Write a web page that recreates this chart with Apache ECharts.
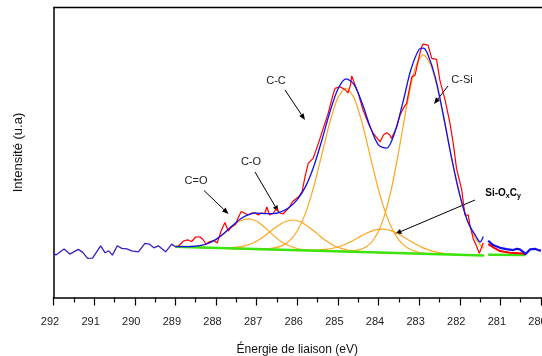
<!DOCTYPE html>
<html><head><meta charset="utf-8">
<script src="https://cdn.jsdelivr.net/npm/echarts@6/dist/echarts.min.js"></script>
<style>html,body{margin:0;padding:0;background:#fff}#c{width:542px;height:356px}</style>
</head><body><div id="c"></div>
<script>
// ---- Data (binding energy in eV, intensity in arbitrary units) ----
const noiseE = [292.0,291.94,291.74,291.60,291.39,291.28,291.16,291.04,290.84,290.73,290.64,290.55,290.43,290.32,290.19,290.08,289.91,289.75,289.64,289.53,289.42,289.24,289.09,289.0];
const noiseI = [44.7,42.4,48.4,43.4,48.1,45.1,39.1,39.4,51.7,44.7,46.7,42.4,51.7,49.1,48.7,46.7,45.7,54.1,53.4,49.7,51.7,45.7,53.4,50.8];

const rawE = [289.00,288.92,288.80,288.70,288.60,288.50,288.40,288.32,288.25,288.15,288.05,287.97,287.88,287.78,287.70,287.62,287.52,287.45,287.38,287.30,287.21,287.12,287.04,286.96,286.88,286.80,286.75,286.68,286.60,286.51,286.43,286.35,286.27,286.20,286.12,286.04,285.96,285.88,285.81,285.73,285.61,285.48,285.36,285.24,285.11,285.07,284.95,284.83,284.75,284.69,284.66,284.62,284.50,284.38,284.25,284.13,283.96,283.88,283.80,283.72,283.68,283.55,283.47,283.39,283.31,283.18,283.10,283.02,282.94,282.90,282.78,282.69,282.57,282.49,282.36,282.24,282.16,282.08,281.95,281.91,281.87,281.79,281.75,281.67,281.58,281.52,281.42];
const rawI = [50.8,51.5,56.5,57.6,56.0,60.5,60.7,58.0,53.5,56.0,57.0,54.5,66.0,75.0,66.5,70.5,73.0,80.0,86.0,84.5,82.5,84.5,84.7,82.5,84.5,84.0,90.5,82.5,84.0,89.0,84.5,83.5,87.0,90.0,95.5,98.5,101.0,106.0,120.7,134.1,139.1,154.1,169.1,184.1,204.1,209.1,210.7,208.1,204.7,212.4,221.4,217.4,204.1,187.4,174.1,164.1,155.7,162.4,164.7,162.4,159.1,170.7,182.4,189.1,194.1,220.7,222.4,237.4,250.7,253.4,252.4,239.1,238.1,217.4,197.4,174.1,154.1,129.1,107.4,94.1,82.4,82.4,72.4,59.1,50.7,44.1,54.7];

const fitE = [289.0,288.8,288.6,288.4,288.2,288.0,287.8,287.6,287.4,287.2,287.0,286.8,286.6,286.4,286.2,286.0,285.8,285.6,285.4,285.2,285.0,284.8,284.6,284.4,284.2,284.0,283.8,283.6,283.4,283.2,283.0,282.9,282.8,282.6,282.4,282.2,282.0,281.8,281.6,281.5,281.42];
const fitI = [50.8,50.8,51.0,51.8,54.0,58.1,64.3,71.7,78.5,82.9,84.3,83.9,83.8,85.6,90.0,97.8,110.6,130.3,156.5,185.0,208.3,218.7,212.8,193.9,170.3,152.4,149.4,164.9,195.1,228.2,248.2,249.4,244.4,219.9,181.5,139.4,102.6,75.6,61.0,55.5,61.0];

// fitted components (C=O, C-O, C-C, Si-OxCy, C-Si)
const cdoE = [281.4,285.4,285.6,285.8,286.0,286.2,286.4,286.6,286.8,287.0,287.2,287.4,287.6,287.8,288.0,288.2,288.4,288.6,288.8,289.0];
const cdoI = [42.0,46.6,47.1,47.7,49.0,51.7,56.1,62.6,70.1,76.2,78.7,76.7,71.0,64.0,58.0,54.0,51.8,51.0,50.8,50.8];
const coE = [281.4,284.1,284.3,284.5,284.7,284.9,285.1,285.3,285.5,285.7,285.9,286.1,286.3,286.5,286.7,286.9,287.1,287.3,287.5,287.7,287.9,289.0];
const coI = [42.0,45.1,45.5,46.0,47.0,48.9,52.0,56.9,63.4,70.0,75.3,77.5,75.8,70.9,64.8,58.8,54.3,51.7,50.3,49.7,49.7,50.8];
const ccE = [281.4,282.8,283.0,283.2,283.4,283.6,283.8,284.0,284.2,284.4,284.6,284.8,285.0,285.2,285.4,285.6,285.8,286.0,286.2,286.4,286.6,286.8,289.0];
const ccI = [42.0,44.0,45.2,47.7,53.1,63.8,81.6,107.9,140.7,173.9,199.2,209.0,199.7,174.8,142.1,109.8,83.9,66.5,56.4,51.4,49.3,48.7,50.8];
const siocE = [281.4,281.9,282.1,282.3,282.5,282.7,282.9,283.1,283.3,283.5,283.7,283.9,284.1,284.3,284.5,284.7,284.9,285.1,285.3,285.5,285.7,285.9,289.0];
const siocI = [42.0,42.7,43.1,43.7,44.9,46.7,49.6,53.7,58.5,63.2,66.9,68.4,67.3,64.2,59.9,55.5,52.0,49.5,48.1,47.5,47.3,47.3,50.8];
const csiE = [281.4,281.5,281.7,281.9,282.1,282.3,282.5,282.7,282.9,283.1,283.3,283.5,283.7,283.9,284.1,284.3,284.5,284.7,284.9,285.5,289.0];
const csiI = [49.0,52.8,65.8,87.6,119.6,159.6,200.1,231.0,242.7,228.9,192.3,146.7,105.6,76.1,59.0,50.7,47.4,46.3,46.1,46.8,50.8];

const baseE = [289.0,281.4];
const baseI = [50.8,42.0];

// high-energy-side tail segment (right of the gap)
const tailFitE = [281.30,281.18,281.01,280.85,280.68,280.60,280.52,280.44,280.38,280.27,280.15,280.07,280.0];
const tailFitI = [56.7,52.4,49.7,48.4,47.4,48.7,48.1,45.7,43.4,48.1,48.7,47.4,46.9];
const tailRawE = [281.30,281.13,281.01,280.76,280.44,280.38];
const tailRawI = [53.4,49.1,46.4,44.7,44.1,43.1];
const tailBaseE = [281.30,280.38];
const tailBaseI = [42.8,42.6];

const xMin = 280, xMax = 292, xStep = 1;

const zip = (a,b)=>a.map((x,i)=>[x,b[i]]);
const FONT = '"Liberation Sans", Arial, sans-serif';

function arrow(x1,y1,x2,y2){
  const a=Math.atan2(y2-y1,x2-x1), L=6.5, W=2.6;
  const bx=x2-L*Math.cos(a), by=y2-L*Math.sin(a);
  return [
    {type:'line', silent:true, shape:{x1:x1,y1:y1,x2:bx,y2:by}, style:{stroke:'#000', lineWidth:1}},
    {type:'polygon', silent:true, shape:{points:[[x2,y2],[bx+W*Math.sin(a),by-W*Math.cos(a)],[bx-W*Math.sin(a),by+W*Math.cos(a)]]}, style:{fill:'#000'}}
  ];
}
function label(txt,x,y){
  return {type:'text', silent:true, style:{text:txt, x:x, y:y, align:'center', verticalAlign:'middle', font:'11px '+FONT, fill:'#222'}};
}

const ORANGE = '#FFA51F', GREEN = '#3CE40E', RED = '#FF0000', BLUE = '#1010EE', PURPLE = '#3A1FC4';
function ln(data, color, width, smooth, z){
  return {type:'line', data:data, symbol:'none', smooth:smooth, lineStyle:{color:color, width:width}, itemStyle:{color:color}, z:z, silent:true, animation:false};
}

const chart = echarts.init(document.getElementById('c'), null, {renderer:'canvas'});
chart.setOption({
  animation:false,
  backgroundColor:'#fff',
  grid:{left:53.5, right:1, top:7.5, bottom:58.5, containLabel:false, outerBoundsMode:'none'},
  xAxis:{
    type:'value', min:xMin, max:xMax, interval:xStep, inverse:true,
    axisLine:{lineStyle:{color:'#000', width:1.5}},
    axisTick:{show:true, length:8, lineStyle:{color:'#000', width:1.2}},
    minorTick:{show:true, splitNumber:2, length:5, lineStyle:{color:'#000', width:1.2}},
    splitLine:{show:false},
    axisLabel:{margin:19, fontSize:11, color:'#222', fontFamily:FONT, padding:[0,7,0,0]},
    name:'Énergie de liaison (eV)', nameLocation:'middle', nameGap:46,
    nameTextStyle:{fontSize:12, color:'#111', fontFamily:FONT}
  },
  yAxis:{
    type:'value', min:0, max:290,
    axisLine:{show:true, lineStyle:{color:'#000', width:1.5}},
    axisTick:{show:false}, axisLabel:{show:false}, splitLine:{show:false},
    name:'Intensité (u.a)', nameLocation:'middle', nameGap:29, nameRotate:90,
    nameTextStyle:{fontSize:13, color:'#111', fontFamily:FONT}
  },
  series:[
    ln(zip(cdoE,cdoI), ORANGE, 1.2, 0.3, 2),
    ln(zip(coE,coI), ORANGE, 1.2, 0.3, 2),
    ln(zip(ccE,ccI), ORANGE, 1.2, 0.3, 2),
    ln(zip(siocE,siocI), ORANGE, 1.2, 0.3, 2),
    ln(zip(csiE,csiI), ORANGE, 1.2, 0.3, 2),
    ln(zip(baseE,baseI), GREEN, 2.5, false, 3),
    ln(zip(tailBaseE,tailBaseI), GREEN, 2.5, false, 3),
    ln(zip(rawE,rawI), RED, 1.2, false, 4),
    ln(zip(tailRawE,tailRawI), RED, 2, false, 4),
    ln(zip(fitE,fitI), BLUE, 1.3, 0.3, 5),
    ln(zip(tailFitE,tailFitI), BLUE, 2.2, false, 5),
    ln(zip(noiseE,noiseI), PURPLE, 1.3, false, 5)
  ],
  graphic:[
    {type:'line', silent:true, shape:{x1:53.5,y1:7.5,x2:542,y2:7.5}, style:{stroke:'#000', lineWidth:1.5}},
    label('C-C', 276, 81),
    label('C-Si', 462, 80),
    label('C-O', 251, 162),
    label('C=O', 196, 181),
    {type:'text', silent:true, style:{
      text:'{b|Si-O}{s|x}{b|C}{s|y}', x:503, y:194, align:'center', verticalAlign:'middle',
      rich:{
        b:{fontSize:10, fontWeight:'bold', fontFamily:FONT, fill:'#000', lineHeight:11, verticalAlign:'top'},
        s:{fontSize:7, fontWeight:'bold', fontFamily:FONT, fill:'#000', lineHeight:8, padding:[5,0,0,0], verticalAlign:'bottom'}
      }
    }},
    ...arrow(285,90,305,120),
    ...arrow(448,86,434,104),
    ...arrow(255,172,278.5,212),
    ...arrow(204,190.5,228.5,214),
    ...arrow(475,200,395,234)
  ]
});
</script>
</body></html>
